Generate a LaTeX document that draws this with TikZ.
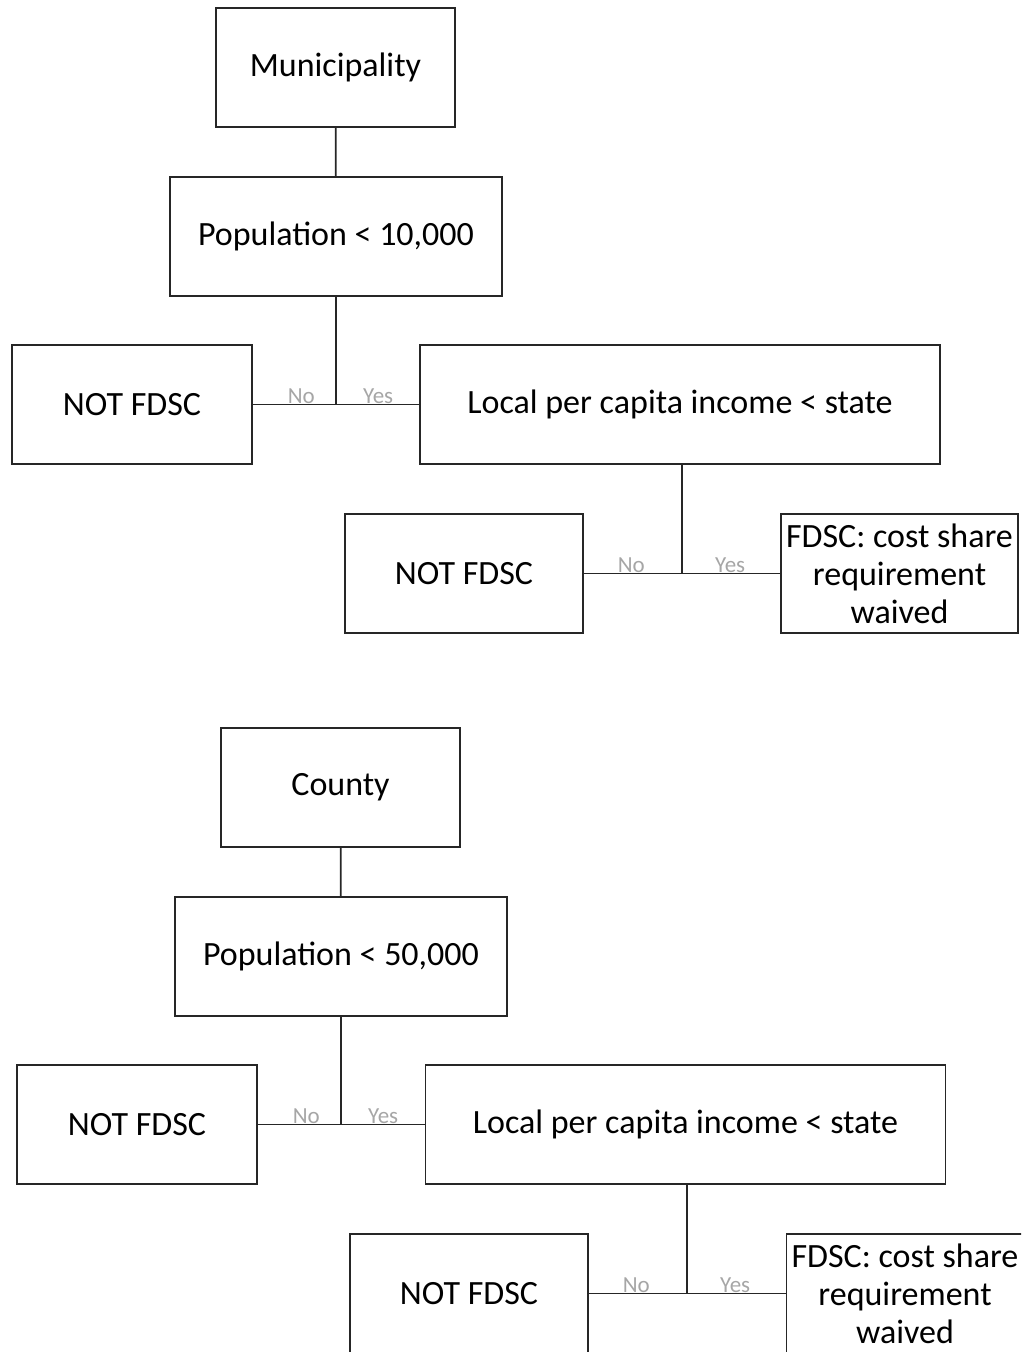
\documentclass[tikz,border=0pt]{standalone}
\usepackage{fontspec}
\setmainfont{Carlito}
\usetikzlibrary{positioning}
\tikzset{
  box/.style={draw=black!85, line width=1.8pt, inner sep=0pt, align=center, font=\fontsize{34}{38}\selectfont},
  link/.style={black!85, line width=1.8pt},
  answer/.style={text=black!35, font=\fontsize{23}{25}\selectfont, inner sep=1pt}
}
\begin{document}
\begin{tikzpicture}[x=1pt,y=-1pt]
      \useasboundingbox (0,0) rectangle (1021,1352);
      \clip (0,0) rectangle (1021,1352);
      %municipality
      \node[box, minimum width=239, minimum height=119] (muni) at (335.5,67.5) {Municipality};
      \node[box, minimum width=332, minimum height=119] (popm) at (336,236.5) {Population < 10,000};
      \node[box, minimum width=240, minimum height=119] (notma) at (132,404.5) {NOT FDSC};
      \node[box, minimum width=520, minimum height=119] (incm) at (680,404.5) {Local per capita income < state};
      \node[box, minimum width=238, minimum height=119] (notmb) at (464,573.5) {NOT FDSC};
      \node[box, minimum width=237, minimum height=119] (fdscm) at (899.5,573.5) {FDSC: cost share\\requirement\\waived};
      \coordinate (jma) at (popm.south |- notma.east);
      \coordinate (jmb) at (682,573.5);
      \draw[link] (muni) -- (popm);
      \draw[link] (popm) -- (jma);
      \draw[link] (notma) -- (incm);
      \draw[link] (incm.south -| jmb) -- (jmb);
      \draw[link] (notmb) -- (fdscm);
      \node[answer, above left=0pt and 20pt of jma] {No};
      \node[answer, above right=0pt and 26pt of jma] {Yes};
      \node[answer, above left=0pt and 36pt of jmb] {No};
      \node[answer, above right=0pt and 32pt of jmb] {Yes};
      %county
      \node[box, minimum width=239, minimum height=119] (cnty) at (340.5,787.5) {County};
      \node[box, minimum width=332, minimum height=119] (popc) at (341,956.5) {Population < 50,000};
      \node[box, minimum width=240, minimum height=119] (notca) at (137,1124.5) {NOT FDSC};
      \node[box, minimum width=520, minimum height=119] (incc) at (685.5,1124.5) {Local per capita income < state};
      \node[box, minimum width=238, minimum height=119] (notcb) at (469,1293.5) {NOT FDSC};
      \node[box, minimum width=237, minimum height=119] (fdscc) at (905,1293.5) {FDSC: cost share\\requirement\\waived};
      \coordinate (jca) at (popc.south |- notca.east);
      \coordinate (jcb) at (687,1293.5);
      \draw[link] (cnty) -- (popc);
      \draw[link] (popc) -- (jca);
      \draw[link] (notca) -- (incc);
      \draw[link] (incc.south -| jcb) -- (jcb);
      \draw[link] (notcb) -- (fdscc);
      \node[answer, above left=0pt and 20pt of jca] {No};
      \node[answer, above right=0pt and 26pt of jca] {Yes};
      \node[answer, above left=0pt and 36pt of jcb] {No};
      \node[answer, above right=0pt and 32pt of jcb] {Yes};
    \end{tikzpicture}
\end{document}
